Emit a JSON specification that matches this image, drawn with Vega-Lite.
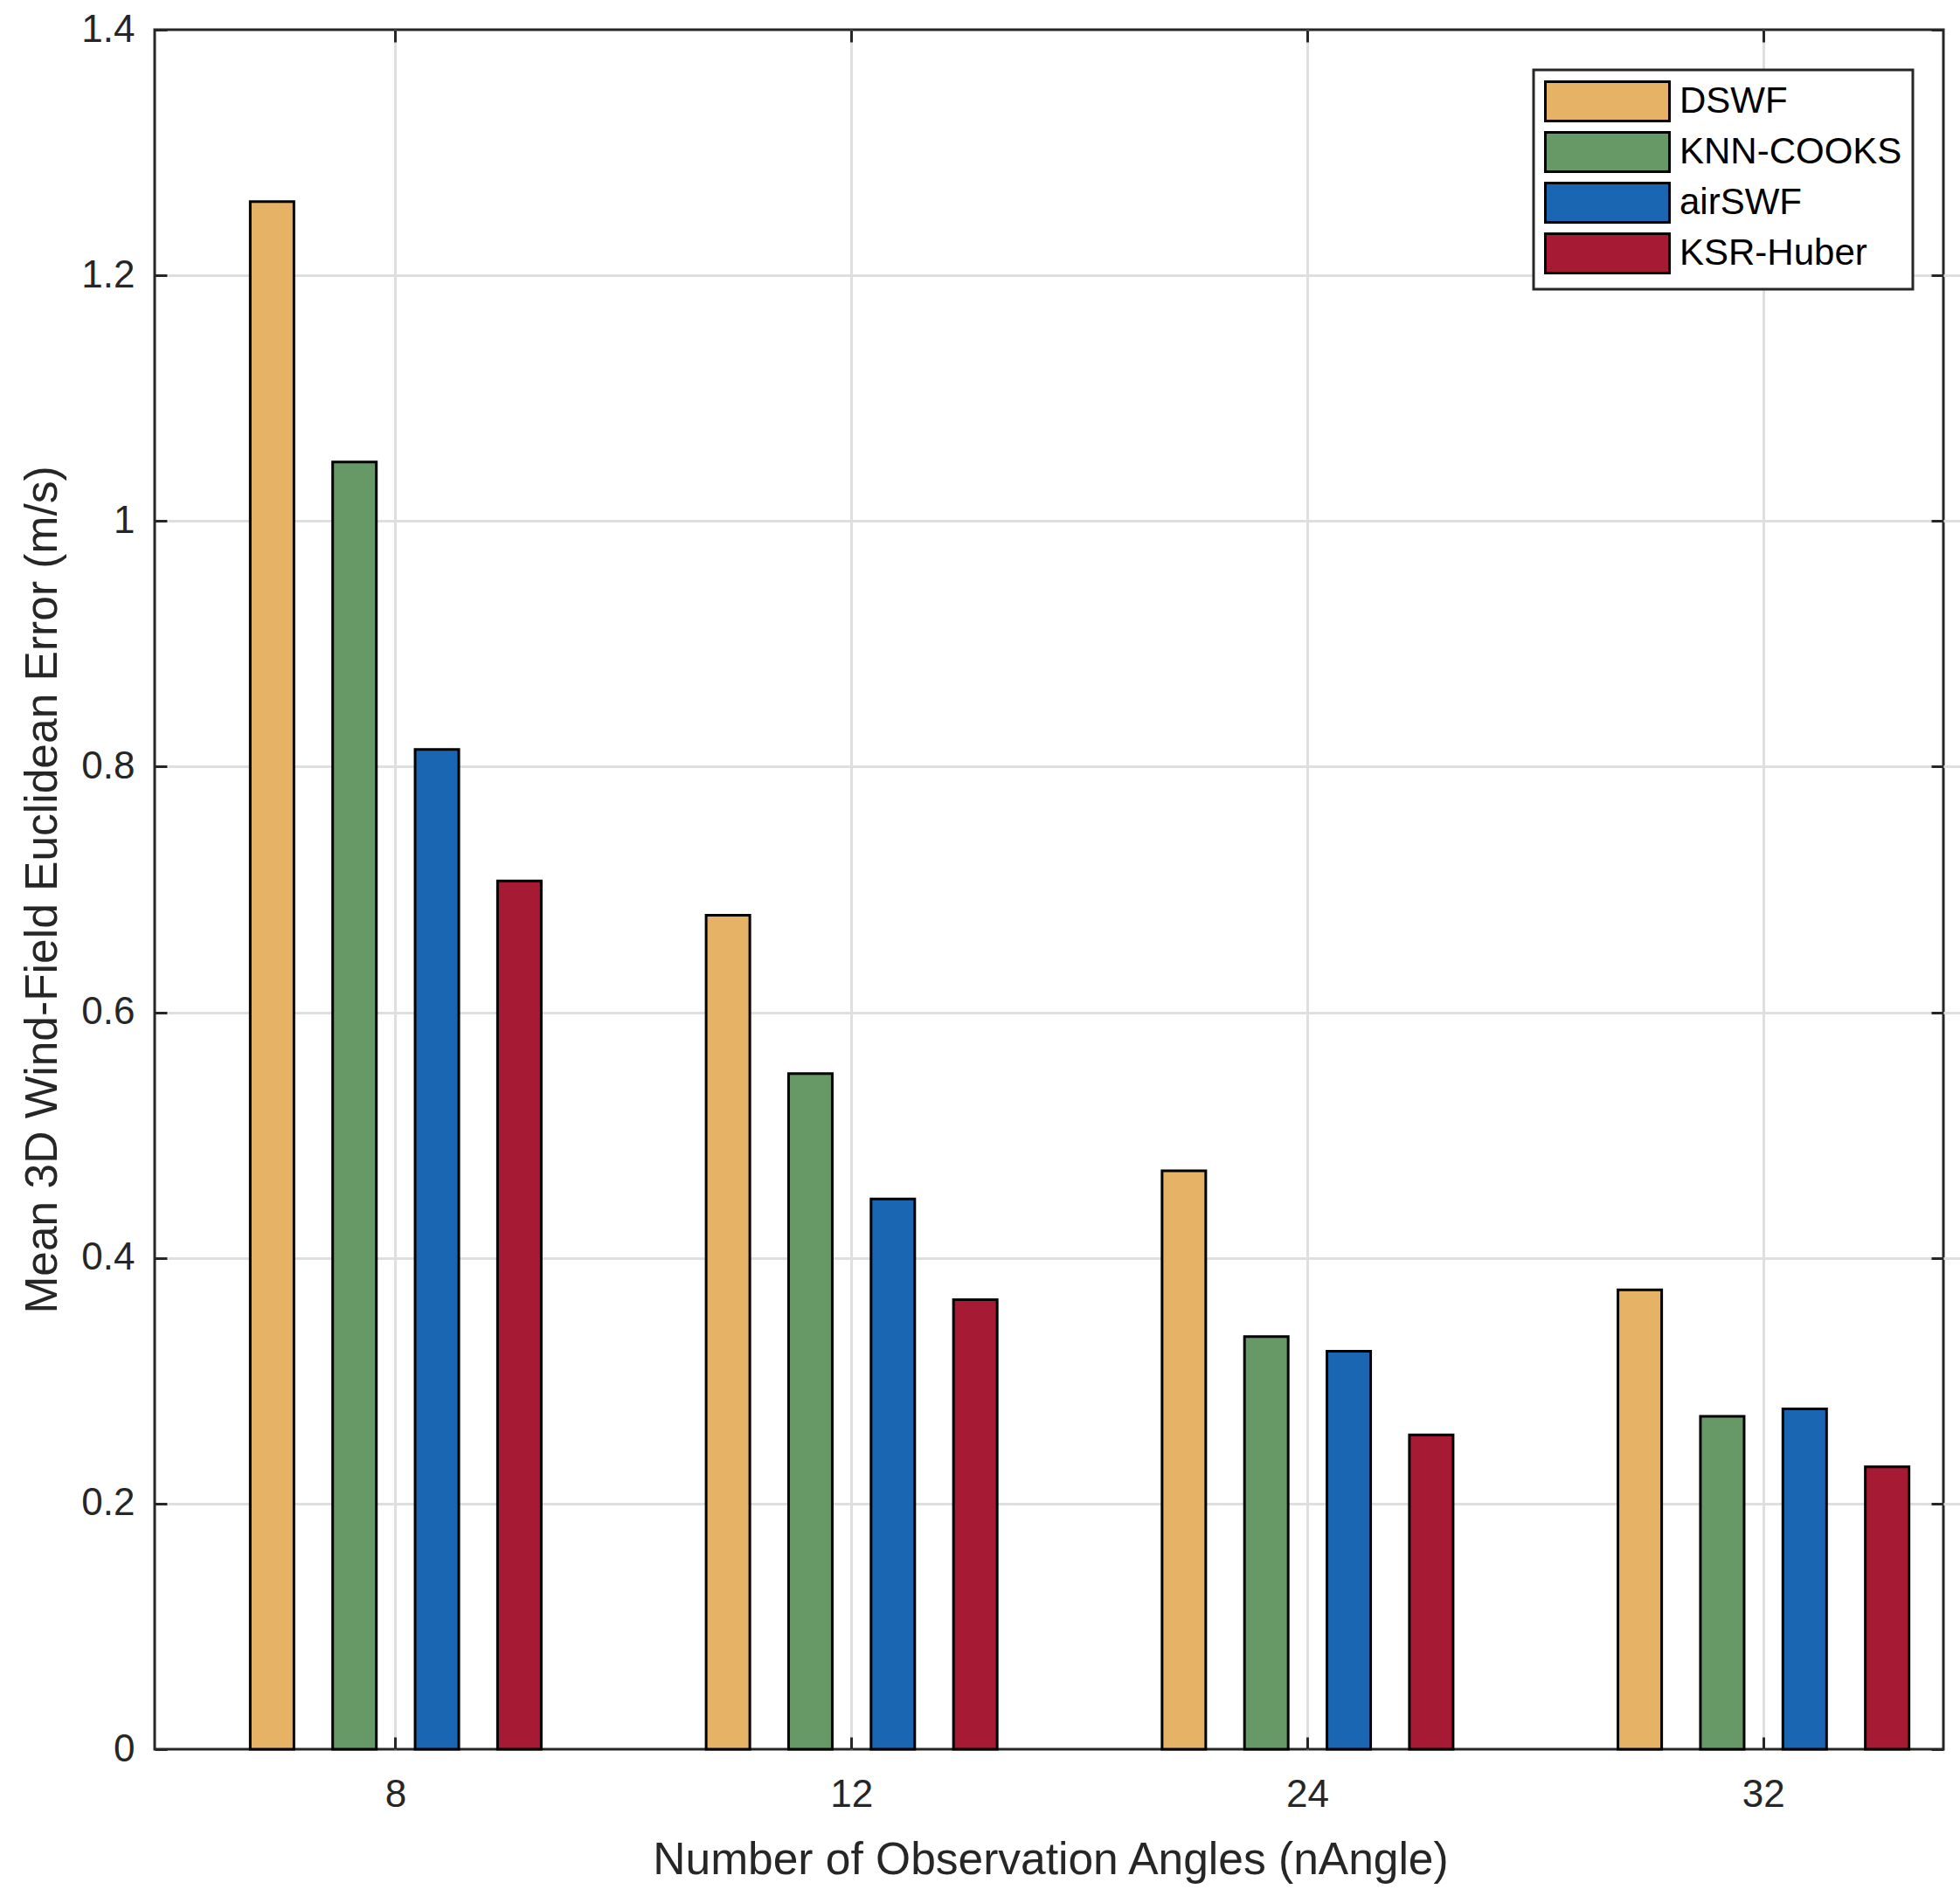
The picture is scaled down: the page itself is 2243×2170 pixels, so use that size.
{
  "$schema": "https://vega.github.io/schema/vega-lite/v6.json",
  "width": 2047,
  "height": 1968,
  "autosize": {"type": "none"},
  "padding": {"left": 177, "top": 34, "right": 19, "bottom": 168},
  "background": "white",
  "config": {
    "font": "Liberation Sans",
    "view": {"stroke": "#262626", "strokeWidth": 3},
    "axis": {
      "labelFont": "Liberation Sans",
      "titleFont": "Liberation Sans",
      "labelFontSize": 44,
      "titleFontSize": 51.5,
      "labelColor": "#262626",
      "titleColor": "#262626",
      "titleFontWeight": "normal",
      "gridColor": "#dfdfdf",
      "gridWidth": 3,
      "tickColor": "#262626",
      "tickWidth": 3,
      "tickSize": -14,
      "domain": false
    }
  },
  "data": {
    "values": [
      {"nAngle": 8, "method": "DSWF", "error": 1.260},
      {"nAngle": 8, "method": "KNN-COOKS", "error": 1.048},
      {"nAngle": 8, "method": "airSWF", "error": 0.814},
      {"nAngle": 8, "method": "KSR-Huber", "error": 0.707},
      {"nAngle": 12, "method": "DSWF", "error": 0.679},
      {"nAngle": 12, "method": "KNN-COOKS", "error": 0.550},
      {"nAngle": 12, "method": "airSWF", "error": 0.448},
      {"nAngle": 12, "method": "KSR-Huber", "error": 0.366},
      {"nAngle": 24, "method": "DSWF", "error": 0.471},
      {"nAngle": 24, "method": "KNN-COOKS", "error": 0.336},
      {"nAngle": 24, "method": "airSWF", "error": 0.324},
      {"nAngle": 24, "method": "KSR-Huber", "error": 0.256},
      {"nAngle": 32, "method": "DSWF", "error": 0.374},
      {"nAngle": 32, "method": "KNN-COOKS", "error": 0.271},
      {"nAngle": 32, "method": "airSWF", "error": 0.277},
      {"nAngle": 32, "method": "KSR-Huber", "error": 0.230}
    ]
  },
  "resolve": {"axis": {"x": "independent", "y": "independent"}},
  "layer": [
    {
      "mark": {"type": "bar", "stroke": "black", "strokeWidth": 3},
      "encoding": {
        "x": {
          "field": "nAngle",
          "type": "ordinal",
          "scale": {"range": [15, 2102], "paddingInner": 0, "paddingOuter": 0},
          "axis": {
            "title": "Number of Observation Angles (nAngle)",
            "labelAngle": 0,
            "grid": true,
            "bandPosition": 0.5,
            "labelPadding": 44,
            "titlePadding": 27,
            "titleX": 1025,
            "titleAlign": "center"
          }
        },
        "xOffset": {
          "field": "method",
          "type": "nominal",
          "sort": ["DSWF", "KNN-COOKS", "airSWF", "KSR-Huber"],
          "scale": {"paddingInner": 0.47, "paddingOuter": 1.0}
        },
        "y": {
          "field": "error",
          "type": "quantitative",
          "scale": {"domain": [0, 1.4], "nice": false},
          "axis": {
            "title": "Mean 3D Wind-Field Euclidean Error (m/s)",
            "values": [0, 0.2, 0.4, 0.6, 0.8, 1, 1.2, 1.4],
            "format": "~g",
            "grid": true,
            "gridColor": {
              "condition": {"test": "datum.value <= 0 || datum.value >= 1.4", "value": "rgba(0,0,0,0)"},
              "value": "#dfdfdf"
            },
            "labelPadding": 37,
            "titlePadding": 17
          }
        },
        "color": {
          "field": "method",
          "type": "nominal",
          "scale": {
            "domain": ["DSWF", "KNN-COOKS", "airSWF", "KSR-Huber"],
            "range": ["#e6b366", "#669966", "#1a66b3", "#a61a33"]
          },
          "legend": {
            "title": null,
            "orient": "none",
            "legendX": 1578,
            "legendY": 46,
            "fillColor": "white",
            "strokeColor": "#262626",
            "padding": 12,
            "symbolType": "M-1,-1H5.311V1H-1Z",
            "symbolSize": 2025,
            "symbolStrokeColor": "black",
            "symbolStrokeWidth": 3,
            "symbolOpacity": 1,
            "labelFont": "Liberation Sans",
            "labelFontSize": 42,
            "labelColor": "black",
            "labelOffset": 107,
            "labelLimit": 600,
            "rowPadding": 0,
            "encode": {"legend": {"update": {"strokeWidth": {"value": 3}}}}
          }
        }
      }
    },
    {
      "mark": {"type": "bar", "opacity": 0},
      "encoding": {
        "x": {
          "field": "nAngle",
          "type": "ordinal",
          "axis": {"orient": "top", "labels": false, "title": null, "grid": false, "bandPosition": 0.5}
        },
        "y": {
          "field": "error",
          "type": "quantitative",
          "axis": {
            "orient": "right",
            "labels": false,
            "title": null,
            "grid": false,
            "values": [0, 0.2, 0.4, 0.6, 0.8, 1, 1.2, 1.4]
          }
        }
      }
    }
  ]
}
